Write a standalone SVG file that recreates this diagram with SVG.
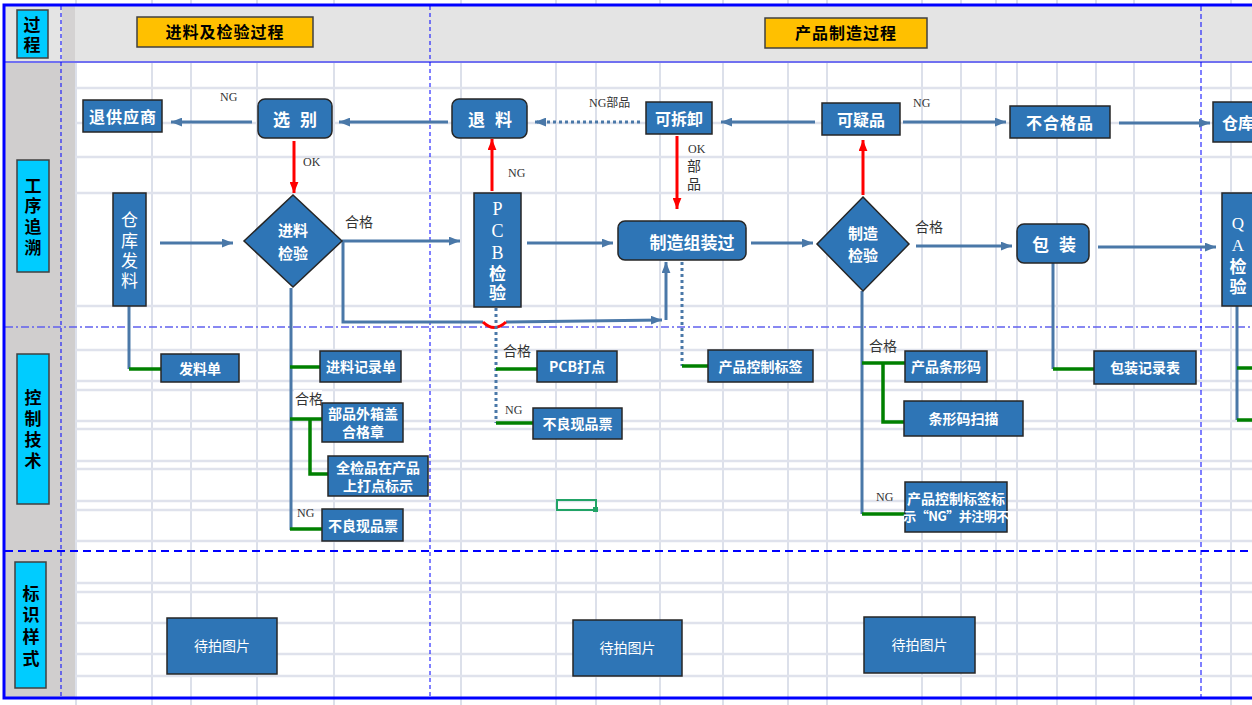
<svg xmlns="http://www.w3.org/2000/svg" width="1252" height="705" viewBox="0 0 1252 705">
<style>
.vg{stroke:#c9cfdf;stroke-width:1.3}
.hg{stroke:#dfe2ec;stroke-width:2.5}
.nd{fill:#2e75b6;stroke:#262626;stroke-width:1.5}
.lane{fill:#00ccff;stroke:#404040;stroke-width:1.5}
.ttl{fill:#ffc000;stroke:#404040;stroke-width:1.5}
.wt{fill:#fff;font-family:"Noto Sans CJK SC",sans-serif;font-weight:700;text-anchor:middle;dominant-baseline:central}
.wn{fill:#fff;font-family:"Noto Sans CJK SC",sans-serif;font-weight:400;text-anchor:middle;dominant-baseline:central}
.bk{fill:#000;font-family:"Noto Sans CJK SC",sans-serif;font-weight:700;text-anchor:middle;dominant-baseline:central}
.vt{writing-mode:vertical-rl;text-orientation:upright}
.sf{font-family:"Liberation Serif",serif}
.lbl{fill:#333;font-family:"Noto Sans CJK SC",sans-serif;font-size:14px}
.ser{fill:#333;font-family:"Liberation Serif",serif;font-size:12px}
.c{fill:none;stroke:#4a78a8;stroke-width:3}
.cd{fill:none;stroke:#4a78a8;stroke-width:3;stroke-dasharray:3 3}
.r{fill:none;stroke:#ff0000;stroke-width:3}
.g{fill:none;stroke:#008000;stroke-width:3.5}
</style>
<defs>
<marker id="ab" viewBox="0 0 10 8" refX="10" refY="4" markerWidth="11" markerHeight="9" markerUnits="userSpaceOnUse" orient="auto"><path d="M0,0 L10,4 L0,8 z" fill="#4a78a8"/></marker>
<marker id="ar" viewBox="0 0 10 8" refX="10" refY="4" markerWidth="11" markerHeight="9" markerUnits="userSpaceOnUse" orient="auto"><path d="M0,0 L10,4 L0,8 z" fill="#ff0000"/></marker>
</defs>
<rect width="1252" height="705" fill="#fff"/>
<g id="grid">
<g class="vg">
<line x1="152" y1="0" x2="152" y2="705"/><line x1="191" y1="0" x2="191" y2="705"/><line x1="257" y1="0" x2="257" y2="705"/><line x1="334" y1="0" x2="334" y2="705"/><line x1="461" y1="0" x2="461" y2="705"/><line x1="556" y1="0" x2="556" y2="705"/><line x1="596" y1="0" x2="596" y2="705"/><line x1="660" y1="0" x2="660" y2="705"/><line x1="723" y1="0" x2="723" y2="705"/><line x1="788" y1="0" x2="788" y2="705"/><line x1="827" y1="0" x2="827" y2="705"/><line x1="922" y1="0" x2="922" y2="705"/><line x1="961" y1="0" x2="961" y2="705"/><line x1="996" y1="0" x2="996" y2="705"/><line x1="1017" y1="0" x2="1017" y2="705"/><line x1="1057" y1="0" x2="1057" y2="705"/><line x1="1096" y1="0" x2="1096" y2="705"/><line x1="1134" y1="0" x2="1134" y2="705"/><line x1="1231" y1="0" x2="1231" y2="705"/><line x1="76" y1="0" x2="76" y2="705"/>
</g>
<g class="hg">
<line x1="75" y1="88" x2="1252" y2="88"/><line x1="75" y1="123" x2="1252" y2="123"/><line x1="75" y1="157" x2="1252" y2="157"/><line x1="75" y1="193" x2="1252" y2="193"/><line x1="75" y1="306" x2="1252" y2="306"/><line x1="75" y1="350" x2="1252" y2="350"/><line x1="75" y1="381" x2="1252" y2="381"/><line x1="75" y1="390" x2="1252" y2="390"/><line x1="75" y1="421" x2="1252" y2="421"/><line x1="75" y1="429" x2="1252" y2="429"/><line x1="75" y1="461" x2="1252" y2="461"/><line x1="75" y1="469" x2="1252" y2="469"/><line x1="75" y1="501" x2="1252" y2="501"/><line x1="75" y1="510" x2="1252" y2="510"/><line x1="75" y1="541" x2="1252" y2="541"/><line x1="75" y1="583" x2="1252" y2="583"/><line x1="75" y1="592" x2="1252" y2="592"/><line x1="75" y1="623" x2="1252" y2="623"/><line x1="75" y1="654" x2="1252" y2="654"/><line x1="75" y1="676" x2="1252" y2="676"/>
</g>
</g>
<g id="frame">
<rect x="5" y="6" width="1247" height="56" fill="#e4e4e4"/>
<rect x="5" y="62" width="70" height="636" fill="#d0cece"/>
<rect x="62" y="6" width="13" height="56" fill="#d4d2d2"/>
<line x1="5" y1="62" x2="1252" y2="62" stroke="#7070f0" stroke-width="2"/>
<line x1="5" y1="327" x2="1252" y2="327" stroke="#6060ee" stroke-width="1.3" stroke-dasharray="8 3 2 3"/>
<line x1="5" y1="551" x2="1252" y2="551" stroke="#0000ff" stroke-width="2" stroke-dasharray="8 5"/>
<line x1="61" y1="6" x2="61" y2="698" stroke="#0000ff" stroke-width="1" stroke-dasharray="4 3"/>
<line x1="430" y1="6" x2="430" y2="698" stroke="#0000ff" stroke-width="1" stroke-dasharray="4 3"/>
<line x1="1201" y1="6" x2="1201" y2="698" stroke="#0000ff" stroke-width="1" stroke-dasharray="5 3"/>
<path d="M1252 5 H4 V698 H1252" fill="none" stroke="#0000ff" stroke-width="3"/>
</g>
<g id="lanes">
<rect class="lane" x="17" y="10" width="31" height="48"/>
<text class="bk vt" font-size="17" x="32" y="36" letter-spacing="3">过程</text>
<rect class="lane" x="17" y="160" width="32" height="112"/>
<text class="bk vt" font-size="17" x="33" y="218" letter-spacing="3.7">工序追溯</text>
<rect class="lane" x="17" y="354" width="32" height="150"/>
<text class="bk vt" font-size="17" x="33" y="431" letter-spacing="4">控制技术</text>
<rect class="lane" x="15" y="562" width="31" height="126"/>
<text class="bk vt" font-size="17" x="31" y="628" letter-spacing="4.7">标识样式</text>
<rect class="ttl" x="137" y="17" width="176" height="30"/>
<text class="bk" font-size="16" x="225" y="31" letter-spacing="1">进料及检验过程</text>
<rect class="ttl" x="765" y="18" width="162" height="30"/>
<text class="bk" font-size="16" x="846" y="32" letter-spacing="1">产品制造过程</text>
</g>
<g id="connectors">
<path class="c" d="M252 122 H171" marker-end="url(#ab)"/>
<path class="c" d="M448 122 H339" marker-end="url(#ab)"/>
<path class="cd" d="M640 122 H537" stroke-width="3.5"/>
<path class="c" d="M545 122 H535" stroke-width="0.1" marker-end="url(#ab)"/>
<path class="c" d="M815 122 H721" marker-end="url(#ab)"/>
<path class="c" d="M903 122 H1006" marker-end="url(#ab)"/>
<path class="c" d="M1119 123 H1210" marker-end="url(#ab)"/>
<path class="r" d="M294 141 V193" marker-end="url(#ar)"/>
<path class="r" d="M492 191 V139" marker-end="url(#ar)"/>
<path class="r" d="M677 136 V209" marker-end="url(#ar)"/>
<path class="r" d="M863 195 V140" marker-end="url(#ar)"/>
<path class="c" d="M160 243 H233" marker-end="url(#ab)"/>
<path class="c" d="M342 241 H460" marker-end="url(#ab)"/>
<path class="c" d="M343 241 V322 H483"/>
<path class="c" d="M506 322 L662 320" marker-end="url(#ab)"/>
<path class="r" d="M483 322 Q494 333 506 322"/>
<path class="c" d="M666 320 V262" marker-end="url(#ab)"/>
<path class="c" d="M527 243 H613" marker-end="url(#ab)"/>
<path class="c" d="M751 243 H813" marker-end="url(#ab)"/>
<path class="c" d="M916 246 H1012" marker-end="url(#ab)"/>
<path class="c" d="M1098 247 H1216" marker-end="url(#ab)"/>
<path class="c" d="M129 306 V369"/>
<path class="g" d="M129 369 H161"/>
<path class="c" d="M291 288 V530"/>
<path class="g" d="M290 367 H320"/>
<path class="g" d="M290 419 H322 M310 419 V474 H328"/>
<path class="g" d="M290 529 H322"/>
<path class="cd" d="M496 308 V423"/>
<path class="g" d="M496 369 H537"/>
<path class="g" d="M496 423 H533"/>
<path class="cd" d="M682 262 V366"/>
<path class="g" d="M682 366 H708"/>
<path class="c" d="M862 291 V514"/>
<path class="g" d="M862 363 H905 M883 363 V422 H904"/>
<path class="g" d="M862 514 H905"/>
<path class="c" d="M1053 263 V369"/>
<path class="g" d="M1053 369 H1094"/>
<path class="c" d="M1237 306 V420"/>
<path class="g" d="M1237 368 H1252 M1237 420 H1252"/>
</g>
<g id="labels">
<text class="ser" x="220" y="101">NG</text>
<text class="ser" x="303" y="166" font-size="14">OK</text>
<text class="lbl" x="345" y="227" font-size="15">合格</text>
<text class="ser" x="508" y="177">NG</text>
<text class="ser" x="589" y="107">NG<tspan font-family="Noto Sans CJK SC,sans-serif" font-size="12">部品</tspan></text>
<text class="ser" x="688" y="153">OK</text>
<text class="lbl vt" x="694" y="177" font-size="12" letter-spacing="4" text-anchor="middle" dominant-baseline="central">部品</text>
<text class="ser" x="913" y="107" font-size="13">NG</text>
<text class="lbl" x="915" y="232" font-size="15">合格</text>
<rect x="294" y="390" width="28" height="17" fill="#fff"/>
<text class="lbl" x="295" y="404">合格</text>
<text class="ser" x="297" y="517">NG</text>
<text class="lbl" x="503" y="356">合格</text>
<text class="ser" x="505" y="414">NG</text>
<text class="lbl" x="869" y="351">合格</text>
<text class="ser" x="876" y="501">NG</text>
<rect x="557" y="500" width="39" height="10" fill="none" stroke="#21a366" stroke-width="2"/>
<rect x="593" y="507" width="5" height="5" fill="#21a366"/>
</g>
<g id="n-tuigongyingshang"><rect class="nd" x="83" y="100" width="79" height="32"/><text class="wt" font-size="16" x="123" y="116" letter-spacing="1">退供应商</text></g>
<g id="n-xuanbie"><rect class="nd" x="258" y="99" width="74" height="39" rx="7"/><text class="wt" font-size="17" x="295" y="118" word-spacing="6">选 别</text></g>
<g id="n-tuiliao"><rect class="nd" x="452" y="99" width="75" height="39" rx="7"/><text class="wt" font-size="17" x="490" y="118" word-spacing="6">退 料</text></g>
<g id="n-kechaixie"><rect class="nd" x="646" y="102" width="66" height="32"/><text class="wt" font-size="16" x="679" y="118">可拆卸</text></g>
<g id="n-keyipin"><rect class="nd" x="822" y="103" width="78" height="32"/><text class="wt" font-size="16" x="861" y="119">可疑品</text></g>
<g id="n-buhegepin"><rect class="nd" x="1010" y="106" width="100" height="32"/><text class="wt" font-size="16" x="1060" y="122" letter-spacing="1">不合格品</text></g>
<g id="n-cangku"><rect class="nd" x="1213" y="102" width="45" height="40"/><text class="wt" font-size="16" x="1222" y="122" style="text-anchor:start">仓库</text></g>
<g id="n-cangkufaliao"><rect class="nd" x="113" y="193" width="33" height="113"/><text class="wn vt" font-size="17" x="129.5" y="252" letter-spacing="3.3">仓库发料</text></g>
<g id="n-jinliaojianyan"><polygon class="nd" points="293,195 342,241 293,287 244,241"/><text class="wt" font-size="15"><tspan x="293" y="229">进料</tspan><tspan x="293" y="252">检验</tspan></text></g>
<g id="n-pcbjianyan"><rect class="nd" x="474" y="193" width="47" height="114"/><text class="wt vt" font-size="17" x="497.5" y="251" letter-spacing="2"><tspan class="sf" font-weight="400" font-size="18">PCB</tspan>检验</text></g>
<g id="n-zhizaozuzhuang"><rect class="nd" x="618" y="221" width="128" height="39" rx="7"/><text class="wt" font-size="17" x="692" y="241">制造组装过</text></g>
<g id="n-zhizaojianyan"><polygon class="nd" points="863,197 909,244 863,291 817,244"/><text class="wt" font-size="15"><tspan x="863" y="232">制造</tspan><tspan x="863" y="254">检验</tspan></text></g>
<g id="n-baozhuang"><rect class="nd" x="1017" y="224" width="72" height="39" rx="7"/><text class="wt" font-size="17" x="1054" y="243" word-spacing="6">包 装</text></g>
<g id="n-qajianyan"><rect class="nd" x="1222" y="193" width="40" height="113"/><text class="wt vt" font-size="17" x="1238" y="256" letter-spacing="3"><tspan class="sf" font-weight="400">QA</tspan>检验</text></g>
<g id="n-faliaodan"><rect class="nd" x="161" y="354" width="78" height="28"/><text class="wt" font-size="14" x="200" y="368">发料单</text></g>
<g id="n-jinliaojilu"><rect class="nd" x="320" y="351" width="81" height="31"/><text class="wt" font-size="14" x="361" y="366">进料记录单</text></g>
<g id="n-bupinwaixiang"><rect class="nd" x="322" y="403" width="81" height="39"/><text class="wt" font-size="14"><tspan x="363" y="413">部品外箱盖</tspan><tspan x="363" y="431">合格章</tspan></text></g>
<g id="n-quanjianpin"><rect class="nd" x="328" y="456" width="100" height="40"/><text class="wt" font-size="14"><tspan x="378" y="467">全检品在产品</tspan><tspan x="378" y="485">上打点标示</tspan></text></g>
<g id="n-buliang1"><rect class="nd" x="322" y="509" width="81" height="32"/><text class="wt" font-size="14" x="363" y="525">不良现品票</text></g>
<g id="n-pcbdadian"><rect class="nd" x="537" y="351" width="80" height="31"/><text class="wt" font-size="14" x="577" y="366">PCB打点</text></g>
<g id="n-buliang2"><rect class="nd" x="533" y="408" width="89" height="31"/><text class="wt" font-size="14" x="577.5" y="423">不良现品票</text></g>
<g id="n-kongzhibiaoqian"><rect class="nd" x="708" y="350" width="105" height="32"/><text class="wt" font-size="14" x="760.5" y="366">产品控制标签</text></g>
<g id="n-tiaoxingma"><rect class="nd" x="905" y="351" width="82" height="31"/><text class="wt" font-size="14" x="946" y="366">产品条形码</text></g>
<g id="n-saomiao"><rect class="nd" x="904" y="401" width="119" height="35"/><text class="wt" font-size="14" x="963.5" y="418">条形码扫描</text></g>
<g id="n-ngbiaoshi"><rect class="nd" x="905" y="482" width="102" height="50"/><text class="wt" font-size="14"><tspan x="956" y="498">产品控制标签标</tspan><tspan x="956" y="515" font-size="13" letter-spacing="-0.5">示“NG”并注明不</tspan></text></g>
<g id="n-baozhuangjilu"><rect class="nd" x="1094" y="351" width="102" height="33"/><text class="wt" font-size="14" x="1145" y="367">包装记录表</text></g>
<g id="n-pic1"><rect class="nd" x="167" y="618" width="110" height="56"/><text class="wn" font-size="14" x="222" y="645">待拍图片</text></g>
<g id="n-pic2"><rect class="nd" x="573" y="620" width="109" height="56"/><text class="wn" font-size="14" x="627.5" y="647">待拍图片</text></g>
<g id="n-pic3"><rect class="nd" x="864" y="617" width="111" height="56"/><text class="wn" font-size="14" x="919.5" y="644">待拍图片</text></g>
</svg>
